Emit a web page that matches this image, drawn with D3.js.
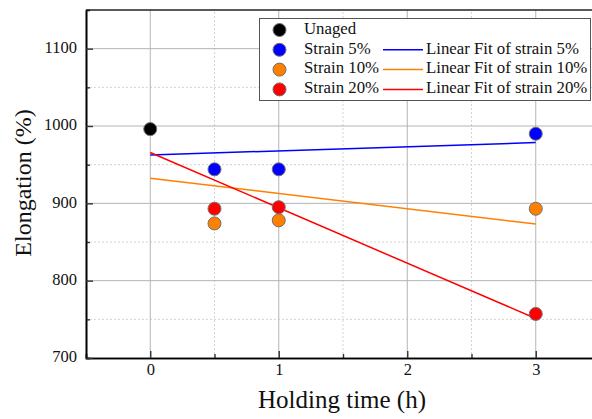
<!DOCTYPE html>
<html>
<head>
<meta charset="utf-8">
<script src="https://cdn.jsdelivr.net/npm/d3@7"></script>
<style>
  body { margin: 0; background: #fff; }
  svg { display: block; font-family: "Liberation Serif", "Times New Roman", serif; }
  svg text { font-family: "Liberation Serif", "Times New Roman", serif; }
</style>
</head>
<body>
<svg id="chart" width="592" height="419"></svg>
<script>
// data
var holdingTime = [0, 0.5, 1, 3];
var unaged = [996];
var strain5 = [944, 944, 990];
var strain10 = [874, 878, 893];
var strain20 = [893, 895, 757];
var xTicks = [0, 1, 2, 3];
var yTicks = [700, 800, 900, 1000, 1100];

var series = [
    {name: "Strain 5%", fit: "Linear Fit of strain 5%", color: "#0000ff", values: strain5},
    {name: "Strain 10%", fit: "Linear Fit of strain 10%", color: "#ff8000", values: strain10},
    {name: "Strain 20%", fit: "Linear Fit of strain 20%", color: "#ff0000", values: strain20}
];

var svg = d3.select("#chart");
var margin = {left: 86, top: 10, bottom: 61};
var height = 419 - margin.top - margin.bottom;

var x = d3.scaleLinear().domain([-0.5, 3.5]).range([margin.left, margin.left + 4 * 128.5]);
var y = d3.scaleLinear().domain([700, 1150]).range([margin.top + height, margin.top]);

// linear fit, the unaged point counts as t = 0 of every series
function linearFit(xs, ys) {
    var mx = d3.mean(xs), my = d3.mean(ys);
    var sxy = 0, sxx = 0;
    for (var i = 0; i < xs.length; i ++) {
        sxy += (xs[i] - mx) * (ys[i] - my);
        sxx += (xs[i] - mx) * (xs[i] - mx);
    }
    var b = sxy / sxx;
    return {a: my - b * mx, b: b};
}

var g = svg.append("g");
var x0 = x.range()[0], x1 = x.range()[1], y0 = y.range()[0], y1 = y.range()[1];

// grid
var minorX = [0.5, 1.5, 2.5, 3.5], minorY = [750, 850, 950, 1050];
g.selectAll(".mgx").data(minorX).enter().append("line")
    .attr("x1", function (d) {return x(d);}).attr("x2", function (d) {return x(d);})
    .attr("y1", y0).attr("y2", y1)
    .attr("stroke", "#d4d4d4").attr("stroke-dasharray", "2,2");
g.selectAll(".mgy").data(minorY).enter().append("line")
    .attr("y1", function (d) {return y(d);}).attr("y2", function (d) {return y(d);})
    .attr("x1", x0).attr("x2", x1)
    .attr("stroke", "#d4d4d4").attr("stroke-dasharray", "2,2");
g.selectAll(".gx").data(xTicks).enter().append("line")
    .attr("x1", function (d) {return x(d);}).attr("x2", function (d) {return x(d);})
    .attr("y1", y0).attr("y2", y1)
    .attr("stroke", "#b4b4b4");
g.selectAll(".gy").data(yTicks.slice(1)).enter().append("line")
    .attr("y1", function (d) {return y(d);}).attr("y2", function (d) {return y(d);})
    .attr("x1", x0).attr("x2", x1)
    .attr("stroke", "#b4b4b4");

// axes, ticks inward
var fmt = d3.format("d");
var xAxis = d3.axisBottom(x).tickValues(xTicks).tickFormat(fmt).tickSizeInner(-7).tickSizeOuter(0).tickPadding(13);
var yAxis = d3.axisLeft(y).tickValues(yTicks).tickFormat(fmt).tickSizeInner(-7).tickSizeOuter(0).tickPadding(9);
var xMinor = d3.axisBottom(x).tickValues(minorX).tickSize(-4).tickFormat("");
var yMinor = d3.axisLeft(y).tickValues(minorY).tickSize(-4).tickFormat("");

function styleAxis(sel) {
    sel.attr("font-family", null).attr("font-size", null);
    sel.select(".domain").attr("stroke", "#000").attr("stroke-width", 1.6);
    sel.selectAll(".tick line").attr("stroke", "#333").attr("stroke-width", 1.4);
    sel.selectAll("text").style("font-size", "16.5px").attr("fill", "#111");
}
g.append("g").attr("transform", "translate(0," + y0 + ")").call(xMinor).call(styleAxis);
g.append("g").attr("transform", "translate(" + x0 + ",0)").call(yMinor).call(styleAxis);
g.append("g").attr("transform", "translate(0," + y0 + ")").call(xAxis).call(styleAxis);
g.append("g").attr("transform", "translate(" + x0 + ",0)").call(yAxis).call(styleAxis);
g.selectAll(".tick text").attr("dy", null).attr("dominant-baseline", "middle");
g.append("line").attr("x1", x0).attr("x2", x1).attr("y1", y1).attr("y2", y1)
    .attr("stroke", "#222").attr("stroke-width", 1.4);

// axis titles
svg.append("text").attr("x", 342).attr("y", 408).attr("text-anchor", "middle")
    .attr("font-size", 25).attr("fill", "#111").text("Holding time (h)");
svg.append("text").attr("transform", "translate(31,183) rotate(-90)").attr("text-anchor", "middle")
    .attr("font-size", 24).attr("fill", "#111").text("Elongation (%)");

// fit lines
series.forEach(function (s) {
    var xs = holdingTime, ys = unaged.concat(s.values);
    var f = linearFit(xs, ys);
    g.append("line")
        .attr("x1", x(0)).attr("y1", y(f.a))
        .attr("x2", x(3)).attr("y2", y(f.a + f.b * 3))
        .attr("stroke", s.color).attr("stroke-width", 1.5);
});

// points
function dots(xs, ys, color) {
    g.selectAll(null).data(ys).enter().append("circle")
        .attr("cx", function (d, i) {return x(xs[i]);})
        .attr("cy", function (d) {return y(d);})
        .attr("r", 6.5)
        .attr("fill", color).attr("stroke", "#707070").attr("stroke-width", 1);
}
dots([0], unaged, "#000");
series.forEach(function (s) {dots(holdingTime.slice(1), s.values, s.color);});

// legend
var leg = svg.append("g");
leg.append("rect").attr("x", 259.5).attr("y", 18.5).attr("width", 331).attr("height", 82)
    .attr("fill", "#fff").attr("stroke", "#555").attr("stroke-width", 1);
var rows = [{name: "Unaged", color: "#000"}].concat(series);
rows.forEach(function (r, i) {
    var ry = 30 + i * 19.8;
    leg.append("circle").attr("cx", 279.5).attr("cy", ry).attr("r", 6.5)
        .attr("fill", r.color).attr("stroke", "#707070");
    leg.append("text").attr("x", 304).attr("y", ry).attr("dominant-baseline", "middle")
        .attr("font-size", 16.8).attr("fill", "#111").text(r.name);
    if (r.fit) {
        leg.append("line").attr("x1", 383).attr("x2", 423).attr("y1", ry).attr("y2", ry)
            .attr("stroke", r.color).attr("stroke-width", 1.5);
        leg.append("text").attr("x", 426).attr("y", ry).attr("dominant-baseline", "middle")
            .attr("font-size", 16.8).attr("fill", "#111").text(r.fit);
    }
});
</script>
</body>
</html>
